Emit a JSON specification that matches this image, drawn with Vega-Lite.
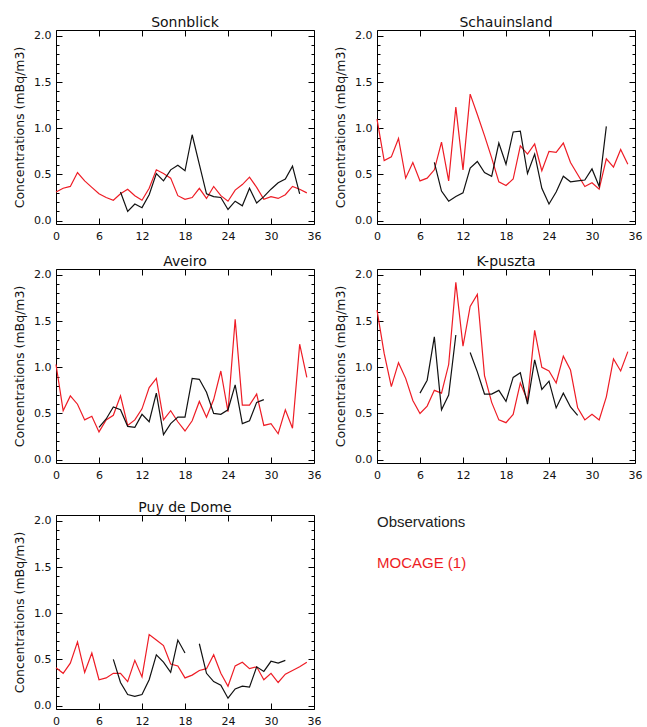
{
  "$schema": "https://vega.github.io/schema/vega-lite/v6.json",
  "background": "white",
  "padding": {"left": 13, "top": 15, "right": 5, "bottom": 5},
  "config": {
    "view": {"stroke": "black", "strokeWidth": 1},
    "font": "DejaVu Sans",
    "title": {"font": "DejaVu Sans", "fontSize": 14, "fontWeight": "normal", "color": "#111111", "offset": 0, "dy": 4},
    "axis": {"domain": false, "grid": false, "tickColor": "black", "tickSize": -6, "tickWidth": 1, "labelFont": "DejaVu Sans", "labelFontSize": 11, "labelColor": "#111111", "titleFont": "DejaVu Sans", "titleFontSize": 12.5, "titleFontWeight": "normal", "titleColor": "#111111", "labelFlush": false, "labelOverlap": false}
  },
  "data": {"values": [
    {"s":"Sonnblick","k":"mod","g":"m","x":0,"y":0.31},{"s":"Sonnblick","k":"mod","g":"m","x":1,"y":0.35},{"s":"Sonnblick","k":"mod","g":"m","x":2,"y":0.37},{"s":"Sonnblick","k":"mod","g":"m","x":3,"y":0.52},{"s":"Sonnblick","k":"mod","g":"m","x":4,"y":0.43},{"s":"Sonnblick","k":"mod","g":"m","x":5,"y":0.36},{"s":"Sonnblick","k":"mod","g":"m","x":6,"y":0.29},{"s":"Sonnblick","k":"mod","g":"m","x":7,"y":0.25},{"s":"Sonnblick","k":"mod","g":"m","x":8,"y":0.22},{"s":"Sonnblick","k":"mod","g":"m","x":9,"y":0.29},{"s":"Sonnblick","k":"mod","g":"m","x":10,"y":0.34},{"s":"Sonnblick","k":"mod","g":"m","x":11,"y":0.27},{"s":"Sonnblick","k":"mod","g":"m","x":12,"y":0.22},{"s":"Sonnblick","k":"mod","g":"m","x":13,"y":0.35},{"s":"Sonnblick","k":"mod","g":"m","x":14,"y":0.55},{"s":"Sonnblick","k":"mod","g":"m","x":15,"y":0.51},{"s":"Sonnblick","k":"mod","g":"m","x":16,"y":0.46},{"s":"Sonnblick","k":"mod","g":"m","x":17,"y":0.27},{"s":"Sonnblick","k":"mod","g":"m","x":18,"y":0.23},{"s":"Sonnblick","k":"mod","g":"m","x":19,"y":0.25},{"s":"Sonnblick","k":"mod","g":"m","x":20,"y":0.35},{"s":"Sonnblick","k":"mod","g":"m","x":21,"y":0.24},{"s":"Sonnblick","k":"mod","g":"m","x":22,"y":0.37},{"s":"Sonnblick","k":"mod","g":"m","x":23,"y":0.27},{"s":"Sonnblick","k":"mod","g":"m","x":24,"y":0.21},{"s":"Sonnblick","k":"mod","g":"m","x":25,"y":0.33},{"s":"Sonnblick","k":"mod","g":"m","x":26,"y":0.39},{"s":"Sonnblick","k":"mod","g":"m","x":27,"y":0.47},{"s":"Sonnblick","k":"mod","g":"m","x":28,"y":0.36},{"s":"Sonnblick","k":"mod","g":"m","x":29,"y":0.23},{"s":"Sonnblick","k":"mod","g":"m","x":30,"y":0.26},{"s":"Sonnblick","k":"mod","g":"m","x":31,"y":0.24},{"s":"Sonnblick","k":"mod","g":"m","x":32,"y":0.28},{"s":"Sonnblick","k":"mod","g":"m","x":33,"y":0.37},{"s":"Sonnblick","k":"mod","g":"m","x":34,"y":0.34},{"s":"Sonnblick","k":"mod","g":"m","x":35,"y":0.30},
    {"s":"Sonnblick","k":"obs","g":"o1","x":9,"y":0.31},{"s":"Sonnblick","k":"obs","g":"o1","x":10,"y":0.10},{"s":"Sonnblick","k":"obs","g":"o1","x":11,"y":0.18},{"s":"Sonnblick","k":"obs","g":"o1","x":12,"y":0.14},{"s":"Sonnblick","k":"obs","g":"o1","x":13,"y":0.28},{"s":"Sonnblick","k":"obs","g":"o1","x":14,"y":0.51},{"s":"Sonnblick","k":"obs","g":"o1","x":15,"y":0.43},{"s":"Sonnblick","k":"obs","g":"o1","x":16,"y":0.55},{"s":"Sonnblick","k":"obs","g":"o1","x":17,"y":0.60},{"s":"Sonnblick","k":"obs","g":"o1","x":18,"y":0.54},{"s":"Sonnblick","k":"obs","g":"o1","x":19,"y":0.93},{"s":"Sonnblick","k":"obs","g":"o1","x":20,"y":0.61},{"s":"Sonnblick","k":"obs","g":"o1","x":21,"y":0.29},{"s":"Sonnblick","k":"obs","g":"o1","x":22,"y":0.26},{"s":"Sonnblick","k":"obs","g":"o1","x":23,"y":0.25},{"s":"Sonnblick","k":"obs","g":"o1","x":24,"y":0.12},{"s":"Sonnblick","k":"obs","g":"o1","x":25,"y":0.21},{"s":"Sonnblick","k":"obs","g":"o1","x":26,"y":0.16},{"s":"Sonnblick","k":"obs","g":"o1","x":27,"y":0.35},{"s":"Sonnblick","k":"obs","g":"o1","x":28,"y":0.19},{"s":"Sonnblick","k":"obs","g":"o1","x":29,"y":0.26},{"s":"Sonnblick","k":"obs","g":"o1","x":30,"y":0.34},{"s":"Sonnblick","k":"obs","g":"o1","x":31,"y":0.41},{"s":"Sonnblick","k":"obs","g":"o1","x":32,"y":0.45},{"s":"Sonnblick","k":"obs","g":"o1","x":33,"y":0.59},{"s":"Sonnblick","k":"obs","g":"o1","x":34,"y":0.29},
    {"s":"Schauinsland","k":"mod","g":"m","x":0,"y":1.10},{"s":"Schauinsland","k":"mod","g":"m","x":1,"y":0.65},{"s":"Schauinsland","k":"mod","g":"m","x":2,"y":0.69},{"s":"Schauinsland","k":"mod","g":"m","x":3,"y":0.89},{"s":"Schauinsland","k":"mod","g":"m","x":4,"y":0.46},{"s":"Schauinsland","k":"mod","g":"m","x":5,"y":0.63},{"s":"Schauinsland","k":"mod","g":"m","x":6,"y":0.43},{"s":"Schauinsland","k":"mod","g":"m","x":7,"y":0.46},{"s":"Schauinsland","k":"mod","g":"m","x":8,"y":0.55},{"s":"Schauinsland","k":"mod","g":"m","x":9,"y":0.85},{"s":"Schauinsland","k":"mod","g":"m","x":10,"y":0.43},{"s":"Schauinsland","k":"mod","g":"m","x":11,"y":1.23},{"s":"Schauinsland","k":"mod","g":"m","x":12,"y":0.55},{"s":"Schauinsland","k":"mod","g":"m","x":13,"y":1.37},{"s":"Schauinsland","k":"mod","g":"m","x":14,"y":1.15},{"s":"Schauinsland","k":"mod","g":"m","x":15,"y":0.92},{"s":"Schauinsland","k":"mod","g":"m","x":16,"y":0.68},{"s":"Schauinsland","k":"mod","g":"m","x":17,"y":0.42},{"s":"Schauinsland","k":"mod","g":"m","x":18,"y":0.38},{"s":"Schauinsland","k":"mod","g":"m","x":19,"y":0.45},{"s":"Schauinsland","k":"mod","g":"m","x":20,"y":0.81},{"s":"Schauinsland","k":"mod","g":"m","x":21,"y":0.72},{"s":"Schauinsland","k":"mod","g":"m","x":22,"y":0.83},{"s":"Schauinsland","k":"mod","g":"m","x":23,"y":0.54},{"s":"Schauinsland","k":"mod","g":"m","x":24,"y":0.75},{"s":"Schauinsland","k":"mod","g":"m","x":25,"y":0.74},{"s":"Schauinsland","k":"mod","g":"m","x":26,"y":0.84},{"s":"Schauinsland","k":"mod","g":"m","x":27,"y":0.63},{"s":"Schauinsland","k":"mod","g":"m","x":28,"y":0.50},{"s":"Schauinsland","k":"mod","g":"m","x":29,"y":0.37},{"s":"Schauinsland","k":"mod","g":"m","x":30,"y":0.41},{"s":"Schauinsland","k":"mod","g":"m","x":31,"y":0.34},{"s":"Schauinsland","k":"mod","g":"m","x":32,"y":0.67},{"s":"Schauinsland","k":"mod","g":"m","x":33,"y":0.58},{"s":"Schauinsland","k":"mod","g":"m","x":34,"y":0.77},{"s":"Schauinsland","k":"mod","g":"m","x":35,"y":0.61},
    {"s":"Schauinsland","k":"obs","g":"o1","x":8,"y":0.63},{"s":"Schauinsland","k":"obs","g":"o1","x":9,"y":0.32},{"s":"Schauinsland","k":"obs","g":"o1","x":10,"y":0.21},{"s":"Schauinsland","k":"obs","g":"o1","x":11,"y":0.26},{"s":"Schauinsland","k":"obs","g":"o1","x":12,"y":0.30},{"s":"Schauinsland","k":"obs","g":"o1","x":13,"y":0.57},{"s":"Schauinsland","k":"obs","g":"o1","x":14,"y":0.64},{"s":"Schauinsland","k":"obs","g":"o1","x":15,"y":0.52},{"s":"Schauinsland","k":"obs","g":"o1","x":16,"y":0.48},{"s":"Schauinsland","k":"obs","g":"o1","x":17,"y":0.84},{"s":"Schauinsland","k":"obs","g":"o1","x":18,"y":0.61},{"s":"Schauinsland","k":"obs","g":"o1","x":19,"y":0.96},{"s":"Schauinsland","k":"obs","g":"o1","x":20,"y":0.97},{"s":"Schauinsland","k":"obs","g":"o1","x":21,"y":0.51},{"s":"Schauinsland","k":"obs","g":"o1","x":22,"y":0.72},{"s":"Schauinsland","k":"obs","g":"o1","x":23,"y":0.35},{"s":"Schauinsland","k":"obs","g":"o1","x":24,"y":0.18},{"s":"Schauinsland","k":"obs","g":"o1","x":25,"y":0.31},{"s":"Schauinsland","k":"obs","g":"o1","x":26,"y":0.48},{"s":"Schauinsland","k":"obs","g":"o1","x":27,"y":0.42},{"s":"Schauinsland","k":"obs","g":"o1","x":28,"y":0.43},{"s":"Schauinsland","k":"obs","g":"o1","x":29,"y":0.44},{"s":"Schauinsland","k":"obs","g":"o1","x":30,"y":0.56},{"s":"Schauinsland","k":"obs","g":"o1","x":31,"y":0.37},{"s":"Schauinsland","k":"obs","g":"o1","x":32,"y":1.02},
    {"s":"Aveiro","k":"mod","g":"m","x":0,"y":1.03},{"s":"Aveiro","k":"mod","g":"m","x":1,"y":0.53},{"s":"Aveiro","k":"mod","g":"m","x":2,"y":0.69},{"s":"Aveiro","k":"mod","g":"m","x":3,"y":0.60},{"s":"Aveiro","k":"mod","g":"m","x":4,"y":0.43},{"s":"Aveiro","k":"mod","g":"m","x":5,"y":0.47},{"s":"Aveiro","k":"mod","g":"m","x":6,"y":0.30},{"s":"Aveiro","k":"mod","g":"m","x":7,"y":0.43},{"s":"Aveiro","k":"mod","g":"m","x":8,"y":0.48},{"s":"Aveiro","k":"mod","g":"m","x":9,"y":0.69},{"s":"Aveiro","k":"mod","g":"m","x":10,"y":0.37},{"s":"Aveiro","k":"mod","g":"m","x":11,"y":0.43},{"s":"Aveiro","k":"mod","g":"m","x":12,"y":0.55},{"s":"Aveiro","k":"mod","g":"m","x":13,"y":0.78},{"s":"Aveiro","k":"mod","g":"m","x":14,"y":0.88},{"s":"Aveiro","k":"mod","g":"m","x":15,"y":0.43},{"s":"Aveiro","k":"mod","g":"m","x":16,"y":0.53},{"s":"Aveiro","k":"mod","g":"m","x":17,"y":0.41},{"s":"Aveiro","k":"mod","g":"m","x":18,"y":0.31},{"s":"Aveiro","k":"mod","g":"m","x":19,"y":0.42},{"s":"Aveiro","k":"mod","g":"m","x":20,"y":0.63},{"s":"Aveiro","k":"mod","g":"m","x":21,"y":0.46},{"s":"Aveiro","k":"mod","g":"m","x":22,"y":0.65},{"s":"Aveiro","k":"mod","g":"m","x":23,"y":0.96},{"s":"Aveiro","k":"mod","g":"m","x":24,"y":0.52},{"s":"Aveiro","k":"mod","g":"m","x":25,"y":1.52},{"s":"Aveiro","k":"mod","g":"m","x":26,"y":0.59},{"s":"Aveiro","k":"mod","g":"m","x":27,"y":0.59},{"s":"Aveiro","k":"mod","g":"m","x":28,"y":0.71},{"s":"Aveiro","k":"mod","g":"m","x":29,"y":0.37},{"s":"Aveiro","k":"mod","g":"m","x":30,"y":0.39},{"s":"Aveiro","k":"mod","g":"m","x":31,"y":0.28},{"s":"Aveiro","k":"mod","g":"m","x":32,"y":0.54},{"s":"Aveiro","k":"mod","g":"m","x":33,"y":0.34},{"s":"Aveiro","k":"mod","g":"m","x":34,"y":1.25},{"s":"Aveiro","k":"mod","g":"m","x":35,"y":0.89},
    {"s":"Aveiro","k":"obs","g":"o1","x":6,"y":0.35},{"s":"Aveiro","k":"obs","g":"o1","x":7,"y":0.44},{"s":"Aveiro","k":"obs","g":"o1","x":8,"y":0.57},{"s":"Aveiro","k":"obs","g":"o1","x":9,"y":0.54},{"s":"Aveiro","k":"obs","g":"o1","x":10,"y":0.36},{"s":"Aveiro","k":"obs","g":"o1","x":11,"y":0.35},{"s":"Aveiro","k":"obs","g":"o1","x":12,"y":0.49},{"s":"Aveiro","k":"obs","g":"o1","x":13,"y":0.41},{"s":"Aveiro","k":"obs","g":"o1","x":14,"y":0.72},{"s":"Aveiro","k":"obs","g":"o1","x":15,"y":0.27},{"s":"Aveiro","k":"obs","g":"o1","x":16,"y":0.39},{"s":"Aveiro","k":"obs","g":"o1","x":17,"y":0.46},{"s":"Aveiro","k":"obs","g":"o1","x":18,"y":0.46},{"s":"Aveiro","k":"obs","g":"o1","x":19,"y":0.88},{"s":"Aveiro","k":"obs","g":"o1","x":20,"y":0.87},{"s":"Aveiro","k":"obs","g":"o1","x":21,"y":0.73},{"s":"Aveiro","k":"obs","g":"o1","x":22,"y":0.50},{"s":"Aveiro","k":"obs","g":"o1","x":23,"y":0.49},{"s":"Aveiro","k":"obs","g":"o1","x":24,"y":0.54},{"s":"Aveiro","k":"obs","g":"o1","x":25,"y":0.81},{"s":"Aveiro","k":"obs","g":"o1","x":26,"y":0.39},{"s":"Aveiro","k":"obs","g":"o1","x":27,"y":0.42},{"s":"Aveiro","k":"obs","g":"o1","x":28,"y":0.62},{"s":"Aveiro","k":"obs","g":"o1","x":29,"y":0.65},
    {"s":"K-puszta","k":"mod","g":"m","x":0,"y":1.62},{"s":"K-puszta","k":"mod","g":"m","x":1,"y":1.15},{"s":"K-puszta","k":"mod","g":"m","x":2,"y":0.79},{"s":"K-puszta","k":"mod","g":"m","x":3,"y":1.05},{"s":"K-puszta","k":"mod","g":"m","x":4,"y":0.88},{"s":"K-puszta","k":"mod","g":"m","x":5,"y":0.64},{"s":"K-puszta","k":"mod","g":"m","x":6,"y":0.50},{"s":"K-puszta","k":"mod","g":"m","x":7,"y":0.58},{"s":"K-puszta","k":"mod","g":"m","x":8,"y":0.75},{"s":"K-puszta","k":"mod","g":"m","x":9,"y":0.72},{"s":"K-puszta","k":"mod","g":"m","x":10,"y":1.03},{"s":"K-puszta","k":"mod","g":"m","x":11,"y":1.92},{"s":"K-puszta","k":"mod","g":"m","x":12,"y":1.23},{"s":"K-puszta","k":"mod","g":"m","x":13,"y":1.66},{"s":"K-puszta","k":"mod","g":"m","x":14,"y":1.79},{"s":"K-puszta","k":"mod","g":"m","x":15,"y":0.91},{"s":"K-puszta","k":"mod","g":"m","x":16,"y":0.62},{"s":"K-puszta","k":"mod","g":"m","x":17,"y":0.43},{"s":"K-puszta","k":"mod","g":"m","x":18,"y":0.40},{"s":"K-puszta","k":"mod","g":"m","x":19,"y":0.49},{"s":"K-puszta","k":"mod","g":"m","x":20,"y":0.83},{"s":"K-puszta","k":"mod","g":"m","x":21,"y":0.64},{"s":"K-puszta","k":"mod","g":"m","x":22,"y":1.40},{"s":"K-puszta","k":"mod","g":"m","x":23,"y":1.00},{"s":"K-puszta","k":"mod","g":"m","x":24,"y":0.96},{"s":"K-puszta","k":"mod","g":"m","x":25,"y":0.83},{"s":"K-puszta","k":"mod","g":"m","x":26,"y":1.12},{"s":"K-puszta","k":"mod","g":"m","x":27,"y":0.97},{"s":"K-puszta","k":"mod","g":"m","x":28,"y":0.56},{"s":"K-puszta","k":"mod","g":"m","x":29,"y":0.43},{"s":"K-puszta","k":"mod","g":"m","x":30,"y":0.49},{"s":"K-puszta","k":"mod","g":"m","x":31,"y":0.43},{"s":"K-puszta","k":"mod","g":"m","x":32,"y":0.68},{"s":"K-puszta","k":"mod","g":"m","x":33,"y":1.09},{"s":"K-puszta","k":"mod","g":"m","x":34,"y":0.96},{"s":"K-puszta","k":"mod","g":"m","x":35,"y":1.17},
    {"s":"K-puszta","k":"obs","g":"o1","x":6,"y":0.72},{"s":"K-puszta","k":"obs","g":"o1","x":7,"y":0.86},{"s":"K-puszta","k":"obs","g":"o1","x":8,"y":1.33},{"s":"K-puszta","k":"obs","g":"o1","x":9,"y":0.54},{"s":"K-puszta","k":"obs","g":"o1","x":10,"y":0.70},{"s":"K-puszta","k":"obs","g":"o1","x":11,"y":1.35},
    {"s":"K-puszta","k":"obs","g":"o2","x":13,"y":1.16},{"s":"K-puszta","k":"obs","g":"o2","x":14,"y":0.95},{"s":"K-puszta","k":"obs","g":"o2","x":15,"y":0.71},{"s":"K-puszta","k":"obs","g":"o2","x":16,"y":0.71},{"s":"K-puszta","k":"obs","g":"o2","x":17,"y":0.75},{"s":"K-puszta","k":"obs","g":"o2","x":18,"y":0.63},{"s":"K-puszta","k":"obs","g":"o2","x":19,"y":0.89},{"s":"K-puszta","k":"obs","g":"o2","x":20,"y":0.94},{"s":"K-puszta","k":"obs","g":"o2","x":21,"y":0.60},{"s":"K-puszta","k":"obs","g":"o2","x":22,"y":1.08},{"s":"K-puszta","k":"obs","g":"o2","x":23,"y":0.76},{"s":"K-puszta","k":"obs","g":"o2","x":24,"y":0.85},{"s":"K-puszta","k":"obs","g":"o2","x":25,"y":0.56},{"s":"K-puszta","k":"obs","g":"o2","x":26,"y":0.72},{"s":"K-puszta","k":"obs","g":"o2","x":27,"y":0.57},{"s":"K-puszta","k":"obs","g":"o2","x":28,"y":0.48},
    {"s":"Puy de Dome","k":"mod","g":"m","x":0,"y":0.41},{"s":"Puy de Dome","k":"mod","g":"m","x":1,"y":0.35},{"s":"Puy de Dome","k":"mod","g":"m","x":2,"y":0.46},{"s":"Puy de Dome","k":"mod","g":"m","x":3,"y":0.69},{"s":"Puy de Dome","k":"mod","g":"m","x":4,"y":0.36},{"s":"Puy de Dome","k":"mod","g":"m","x":5,"y":0.57},{"s":"Puy de Dome","k":"mod","g":"m","x":6,"y":0.28},{"s":"Puy de Dome","k":"mod","g":"m","x":7,"y":0.30},{"s":"Puy de Dome","k":"mod","g":"m","x":8,"y":0.35},{"s":"Puy de Dome","k":"mod","g":"m","x":9,"y":0.35},{"s":"Puy de Dome","k":"mod","g":"m","x":10,"y":0.26},{"s":"Puy de Dome","k":"mod","g":"m","x":11,"y":0.49},{"s":"Puy de Dome","k":"mod","g":"m","x":12,"y":0.31},{"s":"Puy de Dome","k":"mod","g":"m","x":13,"y":0.77},{"s":"Puy de Dome","k":"mod","g":"m","x":14,"y":0.71},{"s":"Puy de Dome","k":"mod","g":"m","x":15,"y":0.65},{"s":"Puy de Dome","k":"mod","g":"m","x":16,"y":0.45},{"s":"Puy de Dome","k":"mod","g":"m","x":17,"y":0.43},{"s":"Puy de Dome","k":"mod","g":"m","x":18,"y":0.30},{"s":"Puy de Dome","k":"mod","g":"m","x":19,"y":0.33},{"s":"Puy de Dome","k":"mod","g":"m","x":20,"y":0.38},{"s":"Puy de Dome","k":"mod","g":"m","x":21,"y":0.40},{"s":"Puy de Dome","k":"mod","g":"m","x":22,"y":0.55},{"s":"Puy de Dome","k":"mod","g":"m","x":23,"y":0.35},{"s":"Puy de Dome","k":"mod","g":"m","x":24,"y":0.21},{"s":"Puy de Dome","k":"mod","g":"m","x":25,"y":0.43},{"s":"Puy de Dome","k":"mod","g":"m","x":26,"y":0.47},{"s":"Puy de Dome","k":"mod","g":"m","x":27,"y":0.40},{"s":"Puy de Dome","k":"mod","g":"m","x":28,"y":0.42},{"s":"Puy de Dome","k":"mod","g":"m","x":29,"y":0.28},{"s":"Puy de Dome","k":"mod","g":"m","x":30,"y":0.35},{"s":"Puy de Dome","k":"mod","g":"m","x":31,"y":0.25},{"s":"Puy de Dome","k":"mod","g":"m","x":32,"y":0.34},{"s":"Puy de Dome","k":"mod","g":"m","x":33,"y":0.38},{"s":"Puy de Dome","k":"mod","g":"m","x":34,"y":0.42},{"s":"Puy de Dome","k":"mod","g":"m","x":35,"y":0.47},
    {"s":"Puy de Dome","k":"obs","g":"o1","x":8,"y":0.50},{"s":"Puy de Dome","k":"obs","g":"o1","x":9,"y":0.25},{"s":"Puy de Dome","k":"obs","g":"o1","x":10,"y":0.12},{"s":"Puy de Dome","k":"obs","g":"o1","x":11,"y":0.10},{"s":"Puy de Dome","k":"obs","g":"o1","x":12,"y":0.12},{"s":"Puy de Dome","k":"obs","g":"o1","x":13,"y":0.28},{"s":"Puy de Dome","k":"obs","g":"o1","x":14,"y":0.55},{"s":"Puy de Dome","k":"obs","g":"o1","x":15,"y":0.47},{"s":"Puy de Dome","k":"obs","g":"o1","x":16,"y":0.36},{"s":"Puy de Dome","k":"obs","g":"o1","x":17,"y":0.71},{"s":"Puy de Dome","k":"obs","g":"o1","x":18,"y":0.57},
    {"s":"Puy de Dome","k":"obs","g":"o2","x":20,"y":0.67},{"s":"Puy de Dome","k":"obs","g":"o2","x":21,"y":0.35},{"s":"Puy de Dome","k":"obs","g":"o2","x":22,"y":0.26},{"s":"Puy de Dome","k":"obs","g":"o2","x":23,"y":0.22},{"s":"Puy de Dome","k":"obs","g":"o2","x":24,"y":0.08},{"s":"Puy de Dome","k":"obs","g":"o2","x":25,"y":0.18},{"s":"Puy de Dome","k":"obs","g":"o2","x":26,"y":0.21},{"s":"Puy de Dome","k":"obs","g":"o2","x":27,"y":0.20},{"s":"Puy de Dome","k":"obs","g":"o2","x":28,"y":0.42},{"s":"Puy de Dome","k":"obs","g":"o2","x":29,"y":0.37},{"s":"Puy de Dome","k":"obs","g":"o2","x":30,"y":0.48},{"s":"Puy de Dome","k":"obs","g":"o2","x":31,"y":0.46},{"s":"Puy de Dome","k":"obs","g":"o2","x":32,"y":0.49}
  ]},
  "vconcat": [
    {
      "spacing": 12,
      "vconcat": [
        {
          "spacing": 12,
          "hconcat": [
            {
              "title": "Sonnblick", "width": 258, "height": 194,
              "transform": [{"filter": "datum.s === 'Sonnblick'"}],
              "layer": [
                {"mark": {"type": "line", "strokeWidth": 1.2}, "encoding": {
                  "x": {"field": "x", "type": "quantitative", "scale": {"domain": [0, 36], "nice": false, "zero": false}, "axis": {"orient": "bottom", "values": [0, 6, 12, 18, 24, 30, 36], "labelPadding": 12, "title": null}},
                  "y": {"field": "y", "type": "quantitative", "scale": {"domain": [-0.037, 2.065], "nice": false, "zero": false}, "axis": {"orient": "left", "values": [0, 0.5, 1, 1.5, 2], "format": ".1f", "labelPadding": 11, "title": "Concentrations  (mBq/m3)", "titlePadding": 7}},
                  "color": {"field": "k", "type": "nominal", "scale": {"domain": ["obs", "mod"], "range": ["#111111", "#ee1c25"]}, "legend": {"orient": "none", "legendX": 306, "legendY": 484, "title": null, "symbolSize": 0, "symbolStrokeWidth": 0, "symbolOpacity": 0, "labelOffset": 0, "labelFont": "Liberation Sans", "labelFontSize": 15, "rowPadding": 25, "labelExpr": "datum.value === 'obs' ? 'Observations' : 'MOCAGE (1)'", "encode": {"labels": {"update": {"fill": {"signal": "datum.value === 'obs' ? '#222222' : '#ee1c25'"}}}}}},
                  "detail": {"field": "g", "type": "nominal"}
                }},
                {"mark": {"type": "point", "opacity": 0}, "encoding": {
                  "x": {"field": "x", "type": "quantitative", "scale": {"domain": [0, 36], "nice": false, "zero": false}, "axis": {"orient": "top", "values": [0, 6, 12, 18, 24, 30, 36], "labels": false, "title": null}},
                  "y": {"field": "y", "type": "quantitative", "scale": {"domain": [-0.037, 2.065], "nice": false, "zero": false}, "axis": {"orient": "right", "values": [0, 0.5, 1, 1.5, 2], "labels": false, "title": null}}
                }},
                {"mark": {"type": "point", "opacity": 0}, "encoding": {
                  "x": {"field": "x", "type": "quantitative", "scale": {"domain": [0, 36], "nice": false, "zero": false}, "axis": null},
                  "y": {"field": "y", "type": "quantitative", "scale": {"domain": [-0.037, 2.065], "nice": false, "zero": false}, "axis": {"orient": "left", "values": [0.1, 0.2, 0.3, 0.4, 0.6, 0.7, 0.8, 0.9, 1.1, 1.2, 1.3, 1.4, 1.6, 1.7, 1.8, 1.9], "tickSize": -3, "labels": false, "title": null}}
                }},
                {"mark": {"type": "point", "opacity": 0}, "encoding": {
                  "x": {"field": "x", "type": "quantitative", "scale": {"domain": [0, 36], "nice": false, "zero": false}, "axis": null},
                  "y": {"field": "y", "type": "quantitative", "scale": {"domain": [-0.037, 2.065], "nice": false, "zero": false}, "axis": {"orient": "right", "values": [0.1, 0.2, 0.3, 0.4, 0.6, 0.7, 0.8, 0.9, 1.1, 1.2, 1.3, 1.4, 1.6, 1.7, 1.8, 1.9], "tickSize": -3, "labels": false, "title": null}}
                }}
              ],
              "resolve": {"axis": {"x": "independent", "y": "independent"}}
            },
            {
              "title": "Schauinsland", "width": 258, "height": 194,
              "transform": [{"filter": "datum.s === 'Schauinsland'"}],
              "layer": [
                {"mark": {"type": "line", "strokeWidth": 1.2}, "encoding": {
                  "x": {"field": "x", "type": "quantitative", "scale": {"domain": [0, 36], "nice": false, "zero": false}, "axis": {"orient": "bottom", "values": [0, 6, 12, 18, 24, 30, 36], "labelPadding": 12, "title": null}},
                  "y": {"field": "y", "type": "quantitative", "scale": {"domain": [-0.037, 2.065], "nice": false, "zero": false}, "axis": {"orient": "left", "values": [0, 0.5, 1, 1.5, 2], "format": ".1f", "labelPadding": 11, "title": "Concentrations  (mBq/m3)", "titlePadding": 7}},
                  "color": {"field": "k", "type": "nominal", "scale": {"domain": ["obs", "mod"], "range": ["#111111", "#ee1c25"]}, "legend": {"orient": "none", "legendX": 306, "legendY": 484, "title": null, "symbolSize": 0, "symbolStrokeWidth": 0, "symbolOpacity": 0, "labelOffset": 0, "labelFont": "Liberation Sans", "labelFontSize": 15, "rowPadding": 25, "labelExpr": "datum.value === 'obs' ? 'Observations' : 'MOCAGE (1)'", "encode": {"labels": {"update": {"fill": {"signal": "datum.value === 'obs' ? '#222222' : '#ee1c25'"}}}}}},
                  "detail": {"field": "g", "type": "nominal"}
                }},
                {"mark": {"type": "point", "opacity": 0}, "encoding": {
                  "x": {"field": "x", "type": "quantitative", "scale": {"domain": [0, 36], "nice": false, "zero": false}, "axis": {"orient": "top", "values": [0, 6, 12, 18, 24, 30, 36], "labels": false, "title": null}},
                  "y": {"field": "y", "type": "quantitative", "scale": {"domain": [-0.037, 2.065], "nice": false, "zero": false}, "axis": {"orient": "right", "values": [0, 0.5, 1, 1.5, 2], "labels": false, "title": null}}
                }},
                {"mark": {"type": "point", "opacity": 0}, "encoding": {
                  "x": {"field": "x", "type": "quantitative", "scale": {"domain": [0, 36], "nice": false, "zero": false}, "axis": null},
                  "y": {"field": "y", "type": "quantitative", "scale": {"domain": [-0.037, 2.065], "nice": false, "zero": false}, "axis": {"orient": "left", "values": [0.1, 0.2, 0.3, 0.4, 0.6, 0.7, 0.8, 0.9, 1.1, 1.2, 1.3, 1.4, 1.6, 1.7, 1.8, 1.9], "tickSize": -3, "labels": false, "title": null}}
                }},
                {"mark": {"type": "point", "opacity": 0}, "encoding": {
                  "x": {"field": "x", "type": "quantitative", "scale": {"domain": [0, 36], "nice": false, "zero": false}, "axis": null},
                  "y": {"field": "y", "type": "quantitative", "scale": {"domain": [-0.037, 2.065], "nice": false, "zero": false}, "axis": {"orient": "right", "values": [0.1, 0.2, 0.3, 0.4, 0.6, 0.7, 0.8, 0.9, 1.1, 1.2, 1.3, 1.4, 1.6, 1.7, 1.8, 1.9], "tickSize": -3, "labels": false, "title": null}}
                }}
              ],
              "resolve": {"axis": {"x": "independent", "y": "independent"}}
            }
          ]
        },
        {
          "spacing": 12,
          "hconcat": [
            {
              "title": "Aveiro", "width": 258, "height": 194,
              "transform": [{"filter": "datum.s === 'Aveiro'"}],
              "layer": [
                {"mark": {"type": "line", "strokeWidth": 1.2}, "encoding": {
                  "x": {"field": "x", "type": "quantitative", "scale": {"domain": [0, 36], "nice": false, "zero": false}, "axis": {"orient": "bottom", "values": [0, 6, 12, 18, 24, 30, 36], "labelPadding": 12, "title": null}},
                  "y": {"field": "y", "type": "quantitative", "scale": {"domain": [-0.037, 2.065], "nice": false, "zero": false}, "axis": {"orient": "left", "values": [0, 0.5, 1, 1.5, 2], "format": ".1f", "labelPadding": 11, "title": "Concentrations  (mBq/m3)", "titlePadding": 7}},
                  "color": {"field": "k", "type": "nominal", "scale": {"domain": ["obs", "mod"], "range": ["#111111", "#ee1c25"]}, "legend": {"orient": "none", "legendX": 306, "legendY": 484, "title": null, "symbolSize": 0, "symbolStrokeWidth": 0, "symbolOpacity": 0, "labelOffset": 0, "labelFont": "Liberation Sans", "labelFontSize": 15, "rowPadding": 25, "labelExpr": "datum.value === 'obs' ? 'Observations' : 'MOCAGE (1)'", "encode": {"labels": {"update": {"fill": {"signal": "datum.value === 'obs' ? '#222222' : '#ee1c25'"}}}}}},
                  "detail": {"field": "g", "type": "nominal"}
                }},
                {"mark": {"type": "point", "opacity": 0}, "encoding": {
                  "x": {"field": "x", "type": "quantitative", "scale": {"domain": [0, 36], "nice": false, "zero": false}, "axis": {"orient": "top", "values": [0, 6, 12, 18, 24, 30, 36], "labels": false, "title": null}},
                  "y": {"field": "y", "type": "quantitative", "scale": {"domain": [-0.037, 2.065], "nice": false, "zero": false}, "axis": {"orient": "right", "values": [0, 0.5, 1, 1.5, 2], "labels": false, "title": null}}
                }},
                {"mark": {"type": "point", "opacity": 0}, "encoding": {
                  "x": {"field": "x", "type": "quantitative", "scale": {"domain": [0, 36], "nice": false, "zero": false}, "axis": null},
                  "y": {"field": "y", "type": "quantitative", "scale": {"domain": [-0.037, 2.065], "nice": false, "zero": false}, "axis": {"orient": "left", "values": [0.1, 0.2, 0.3, 0.4, 0.6, 0.7, 0.8, 0.9, 1.1, 1.2, 1.3, 1.4, 1.6, 1.7, 1.8, 1.9], "tickSize": -3, "labels": false, "title": null}}
                }},
                {"mark": {"type": "point", "opacity": 0}, "encoding": {
                  "x": {"field": "x", "type": "quantitative", "scale": {"domain": [0, 36], "nice": false, "zero": false}, "axis": null},
                  "y": {"field": "y", "type": "quantitative", "scale": {"domain": [-0.037, 2.065], "nice": false, "zero": false}, "axis": {"orient": "right", "values": [0.1, 0.2, 0.3, 0.4, 0.6, 0.7, 0.8, 0.9, 1.1, 1.2, 1.3, 1.4, 1.6, 1.7, 1.8, 1.9], "tickSize": -3, "labels": false, "title": null}}
                }}
              ],
              "resolve": {"axis": {"x": "independent", "y": "independent"}}
            },
            {
              "title": "K-puszta", "width": 258, "height": 194,
              "transform": [{"filter": "datum.s === 'K-puszta'"}],
              "layer": [
                {"mark": {"type": "line", "strokeWidth": 1.2}, "encoding": {
                  "x": {"field": "x", "type": "quantitative", "scale": {"domain": [0, 36], "nice": false, "zero": false}, "axis": {"orient": "bottom", "values": [0, 6, 12, 18, 24, 30, 36], "labelPadding": 12, "title": null}},
                  "y": {"field": "y", "type": "quantitative", "scale": {"domain": [-0.037, 2.065], "nice": false, "zero": false}, "axis": {"orient": "left", "values": [0, 0.5, 1, 1.5, 2], "format": ".1f", "labelPadding": 11, "title": "Concentrations  (mBq/m3)", "titlePadding": 7}},
                  "color": {"field": "k", "type": "nominal", "scale": {"domain": ["obs", "mod"], "range": ["#111111", "#ee1c25"]}, "legend": {"orient": "none", "legendX": 306, "legendY": 484, "title": null, "symbolSize": 0, "symbolStrokeWidth": 0, "symbolOpacity": 0, "labelOffset": 0, "labelFont": "Liberation Sans", "labelFontSize": 15, "rowPadding": 25, "labelExpr": "datum.value === 'obs' ? 'Observations' : 'MOCAGE (1)'", "encode": {"labels": {"update": {"fill": {"signal": "datum.value === 'obs' ? '#222222' : '#ee1c25'"}}}}}},
                  "detail": {"field": "g", "type": "nominal"}
                }},
                {"mark": {"type": "point", "opacity": 0}, "encoding": {
                  "x": {"field": "x", "type": "quantitative", "scale": {"domain": [0, 36], "nice": false, "zero": false}, "axis": {"orient": "top", "values": [0, 6, 12, 18, 24, 30, 36], "labels": false, "title": null}},
                  "y": {"field": "y", "type": "quantitative", "scale": {"domain": [-0.037, 2.065], "nice": false, "zero": false}, "axis": {"orient": "right", "values": [0, 0.5, 1, 1.5, 2], "labels": false, "title": null}}
                }},
                {"mark": {"type": "point", "opacity": 0}, "encoding": {
                  "x": {"field": "x", "type": "quantitative", "scale": {"domain": [0, 36], "nice": false, "zero": false}, "axis": null},
                  "y": {"field": "y", "type": "quantitative", "scale": {"domain": [-0.037, 2.065], "nice": false, "zero": false}, "axis": {"orient": "left", "values": [0.1, 0.2, 0.3, 0.4, 0.6, 0.7, 0.8, 0.9, 1.1, 1.2, 1.3, 1.4, 1.6, 1.7, 1.8, 1.9], "tickSize": -3, "labels": false, "title": null}}
                }},
                {"mark": {"type": "point", "opacity": 0}, "encoding": {
                  "x": {"field": "x", "type": "quantitative", "scale": {"domain": [0, 36], "nice": false, "zero": false}, "axis": null},
                  "y": {"field": "y", "type": "quantitative", "scale": {"domain": [-0.037, 2.065], "nice": false, "zero": false}, "axis": {"orient": "right", "values": [0.1, 0.2, 0.3, 0.4, 0.6, 0.7, 0.8, 0.9, 1.1, 1.2, 1.3, 1.4, 1.6, 1.7, 1.8, 1.9], "tickSize": -3, "labels": false, "title": null}}
                }}
              ],
              "resolve": {"axis": {"x": "independent", "y": "independent"}}
            }
          ]
        }
      ]
    },
    {
      "title": "Puy de Dome", "width": 258, "height": 194,
      "transform": [{"filter": "datum.s === 'Puy de Dome'"}],
      "layer": [
        {"mark": {"type": "line", "strokeWidth": 1.2}, "encoding": {
          "x": {"field": "x", "type": "quantitative", "scale": {"domain": [0, 36], "nice": false, "zero": false}, "axis": {"orient": "bottom", "values": [0, 6, 12, 18, 24, 30, 36], "labelPadding": 12, "title": null}},
          "y": {"field": "y", "type": "quantitative", "scale": {"domain": [-0.037, 2.065], "nice": false, "zero": false}, "axis": {"orient": "left", "values": [0, 0.5, 1, 1.5, 2], "format": ".1f", "labelPadding": 11, "title": "Concentrations  (mBq/m3)", "titlePadding": 7}},
          "color": {"field": "k", "type": "nominal", "scale": {"domain": ["obs", "mod"], "range": ["#111111", "#ee1c25"]}, "legend": {"orient": "none", "legendX": 306, "legendY": 484, "title": null, "symbolSize": 0, "symbolStrokeWidth": 0, "symbolOpacity": 0, "labelOffset": 0, "labelFont": "Liberation Sans", "labelFontSize": 15, "rowPadding": 25, "labelExpr": "datum.value === 'obs' ? 'Observations' : 'MOCAGE (1)'", "encode": {"labels": {"update": {"fill": {"signal": "datum.value === 'obs' ? '#222222' : '#ee1c25'"}}}}}},
          "detail": {"field": "g", "type": "nominal"}
        }},
        {"mark": {"type": "point", "opacity": 0}, "encoding": {
          "x": {"field": "x", "type": "quantitative", "scale": {"domain": [0, 36], "nice": false, "zero": false}, "axis": {"orient": "top", "values": [0, 6, 12, 18, 24, 30, 36], "labels": false, "title": null}},
          "y": {"field": "y", "type": "quantitative", "scale": {"domain": [-0.037, 2.065], "nice": false, "zero": false}, "axis": {"orient": "right", "values": [0, 0.5, 1, 1.5, 2], "labels": false, "title": null}}
        }},
        {"mark": {"type": "point", "opacity": 0}, "encoding": {
          "x": {"field": "x", "type": "quantitative", "scale": {"domain": [0, 36], "nice": false, "zero": false}, "axis": null},
          "y": {"field": "y", "type": "quantitative", "scale": {"domain": [-0.037, 2.065], "nice": false, "zero": false}, "axis": {"orient": "left", "values": [0.1, 0.2, 0.3, 0.4, 0.6, 0.7, 0.8, 0.9, 1.1, 1.2, 1.3, 1.4, 1.6, 1.7, 1.8, 1.9], "tickSize": -3, "labels": false, "title": null}}
        }},
        {"mark": {"type": "point", "opacity": 0}, "encoding": {
          "x": {"field": "x", "type": "quantitative", "scale": {"domain": [0, 36], "nice": false, "zero": false}, "axis": null},
          "y": {"field": "y", "type": "quantitative", "scale": {"domain": [-0.037, 2.065], "nice": false, "zero": false}, "axis": {"orient": "right", "values": [0.1, 0.2, 0.3, 0.4, 0.6, 0.7, 0.8, 0.9, 1.1, 1.2, 1.3, 1.4, 1.6, 1.7, 1.8, 1.9], "tickSize": -3, "labels": false, "title": null}}
        }}
      ],
      "resolve": {"axis": {"x": "independent", "y": "independent"}}
    }
  ],
  "spacing": 19
}
